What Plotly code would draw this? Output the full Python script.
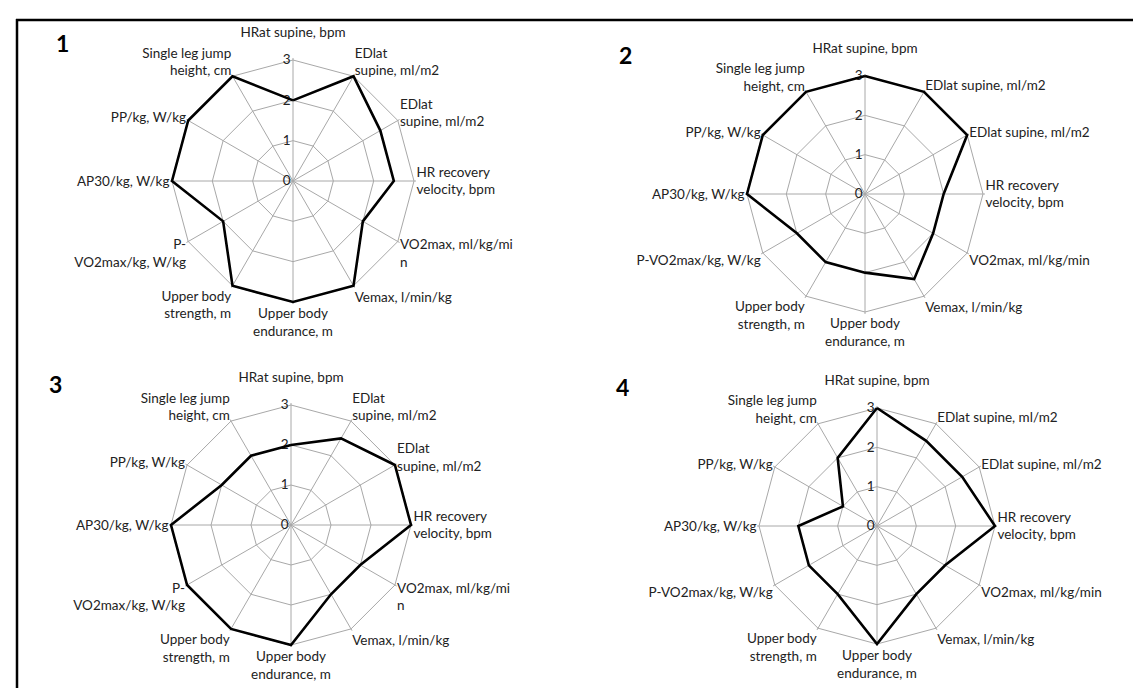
import plotly.graph_objects as go

# ---- data ----
axis_ids = ["hr", "ed1", "ed2", "hrr", "vo2", "ve", "ube", "ubs", "pvo2", "ap30", "pp", "slj"]

labels_a = ["HRat supine, bpm<br> ", "EDlat<br>supine, ml/m2", "EDlat<br>supine, ml/m2",
            "HR recovery<br>velocity, bpm", "VO2max, ml/kg/mi<br>n", "Vemax, l/min/kg",
            "Upper body<br>endurance, m", "Upper body<br>strength, m", "P-<br>VO2max/kg, W/kg",
            "AP30/kg, W/kg", "PP/kg, W/kg", "Single leg jump<br>height, cm"]
labels_b = ["HRat supine, bpm<br> ", "EDlat supine, ml/m2", "EDlat supine, ml/m2",
            "HR recovery<br>velocity, bpm", "VO2max, ml/kg/min", "Vemax, l/min/kg",
            "Upper body<br>endurance, m", "Upper body<br>strength, m", "P-VO2max/kg, W/kg",
            "AP30/kg, W/kg", "PP/kg, W/kg", "Single leg jump<br>height, cm"]

values_1 = [2, 3, 2.5, 2.5, 2, 3, 3, 3, 2, 3, 3, 3]
values_2 = [3, 3, 3, 2, 2, 2.5, 2, 2, 2, 3, 3, 3]
values_3 = [2, 2.5, 3, 3, 2, 2, 3, 3, 3, 3, 2, 2]
values_4 = [3, 2.5, 2.5, 3, 2, 2, 3, 2, 2, 2, 1, 2]

panel_names = ["1", "2", "3", "4"]
radial_ticks = [0, 1, 2, 3]
r_max = 3.05  # small headroom so the thick line on the outer ring is not clipped

W, H = 1141, 688
# panel centers (px), radius of ring 3 (px), panel-number position (px)
panels = [
    (values_1, labels_a, (285, 173), 121, (54, 35)),
    (values_2, labels_b, (857, 186), 118, (617, 47)),
    (values_3, labels_a, (283, 517), 120, (47, 376)),
    (values_4, labels_b, (869, 518), 118, (615, 379)),
]

GRID = "#a8a8a8"
FONT = "Lato"

fig = go.Figure()
layout_upd = {}
annotations = []
for i, (vals, labs, (cx, cy), r3, (nx, ny)) in enumerate(panels):
    key = "polar" if i == 0 else f"polar{i+1}"
    r = r3 * r_max / 3
    fig.add_trace(go.Scatterpolar(
        r=vals + vals[:1], theta=axis_ids + axis_ids[:1],
        mode="lines", line=dict(color="black", width=2.6),
        subplot=key, showlegend=False, hoverinfo="skip"))
    layout_upd[key] = dict(
        domain=dict(x=[(cx - r) / W, (cx + r) / W], y=[1 - (cy + r) / H, 1 - (cy - r) / H]),
        gridshape="linear", bgcolor="rgba(0,0,0,0)",
        angularaxis=dict(type="category", categoryorder="array", categoryarray=axis_ids,
                         rotation=90, direction="clockwise", tickmode="array",
                         tickvals=axis_ids, ticktext=labs, ticks="", layer="below traces",
                         showline=False, gridcolor=GRID, gridwidth=1,
                         tickfont=dict(family=FONT, size=13.5, color="#222")),
        radialaxis=dict(range=[0, r_max], tickvals=radial_ticks, ticktext=[str(t) for t in radial_ticks],
                        angle=90, side="counterclockwise", tickangle=90, ticks="",
                        layer="below traces",
                        showline=False, gridcolor=GRID, gridwidth=1,
                        tickfont=dict(family=FONT, size=13.5, color="#222")),
    )
    annotations.append(dict(text=f"<b>{panel_names[i]}</b>", x=nx / W, y=1 - ny / H,
                            xref="paper", yref="paper", showarrow=False,
                            font=dict(family=FONT, size=23, color="black"),
                            xanchor="center", yanchor="middle"))

fig.update_layout(**layout_upd)
fig.update_layout(
    width=W, height=H, margin=dict(l=0, r=0, t=0, b=0),
    paper_bgcolor="white", plot_bgcolor="white",
    annotations=annotations,
    shapes=[
        dict(type="line", xref="paper", yref="paper", x0=8 / W, x1=1, y0=1 - 12 / H, y1=1 - 12 / H,
             line=dict(color="black", width=2.5)),
        dict(type="line", xref="paper", yref="paper", x0=9 / W, x1=9 / W, y0=0, y1=1 - 11 / H,
             line=dict(color="black", width=2.5)),
    ],
)
fig.write_html("out.html")
